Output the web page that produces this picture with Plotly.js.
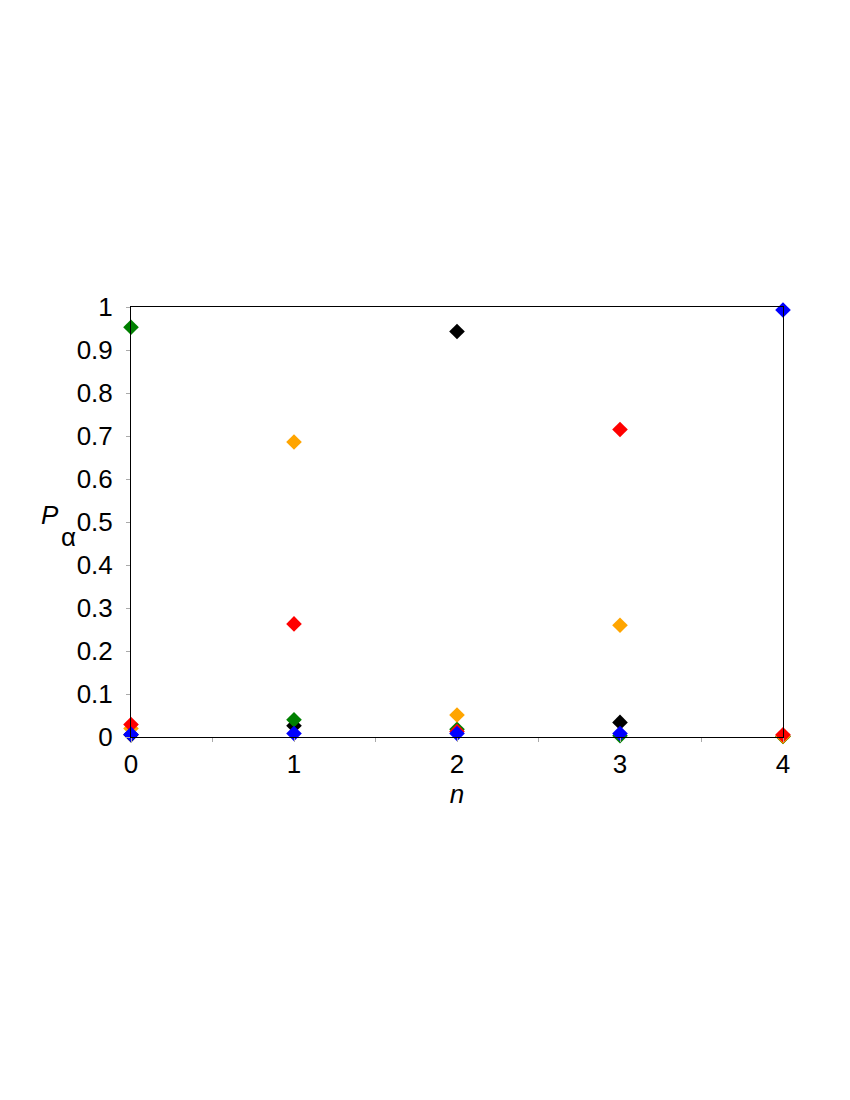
<!DOCTYPE html>
<html>
<head>
<meta charset="utf-8">
<script src="https://cdn.plot.ly/plotly-3.0.1.min.js"></script>
<style>
  body { margin: 0; background: #fff; }
  #plot { width: 850px; height: 1100px; }
</style>
</head>
<body>
<div id="plot"></div>
<script>
// n values along the x axis
let nValues = [0, 1, 2, 3, 4];

// P_alpha for each state
let blackData = [0.005, 0.026, 0.943, 0.034, 0.002];
let greenData = [0.953, 0.040, 0.018, 0.003, 0.001];
let orangeData = [0.020, 0.686, 0.051, 0.260, 0.002];
let redData = [0.029, 0.263, 0.013, 0.715, 0.005];
let blueData = [0.006, 0.008, 0.008, 0.008, 0.993];

let seriesColors = ['black', 'green', 'orange', 'red', 'blue'];
let seriesValues = [blackData, greenData, orangeData, redData, blueData];

let data = [];
for (let i = 0; i < seriesValues.length; i++) {
    data.push({
        x: nValues,
        y: seriesValues[i],
        type: 'scatter',
        mode: 'markers',
        cliponaxis: false,
        marker: { symbol: 'diamond', size: 12, color: seriesColors[i] },
        showlegend: false
    });
}

let axisFont = { family: 'Liberation Sans, Arial, sans-serif', size: 26, color: 'black' };

let layout = {
    width: 850,
    height: 1100,
    margin: { l: 131, r: 67, t: 307, b: 363 },
    paper_bgcolor: 'white',
    plot_bgcolor: 'white',
    font: axisFont,
    xaxis: {
        range: [0, 4],
        tickvals: [0, 1, 2, 3, 4],
        ticks: 'outside',
        ticklen: 4,
        tickcolor: '#aaaaaa',
        ticklabelstandoff: 0,
        minor: { dtick: 0.5, ticks: 'outside', ticklen: 4, tickcolor: '#aaaaaa' },
        showgrid: false,
        zeroline: false,
        showline: true,
        linecolor: 'black',
        linewidth: 1,
        mirror: true,
        tickfont: axisFont,
        title: { text: '<i>n</i>', font: axisFont, standoff: 0 }
    },
    yaxis: {
        range: [0, 1],
        dtick: 0.1,
        ticks: 'outside',
        ticklen: 4,
        tickcolor: '#aaaaaa',
        ticklabelstandoff: 8,
        showgrid: false,
        zeroline: false,
        showline: true,
        linecolor: 'black',
        linewidth: 1,
        mirror: true,
        tickfont: axisFont
    },
    annotations: [{
        text: '<i>P</i>',
        xref: 'paper',
        yref: 'paper',
        x: -0.108,
        y: 0.517,
        xanchor: 'right',
        yanchor: 'middle',
        showarrow: false,
        font: axisFont
    }, {
        text: 'α',
        xref: 'paper',
        yref: 'paper',
        x: -0.0815,
        y: 0.465,
        xanchor: 'right',
        yanchor: 'middle',
        showarrow: false,
        font: axisFont
    }]
};

Plotly.newPlot('plot', data, layout, { displayModeBar: false });
</script>
</body>
</html>
